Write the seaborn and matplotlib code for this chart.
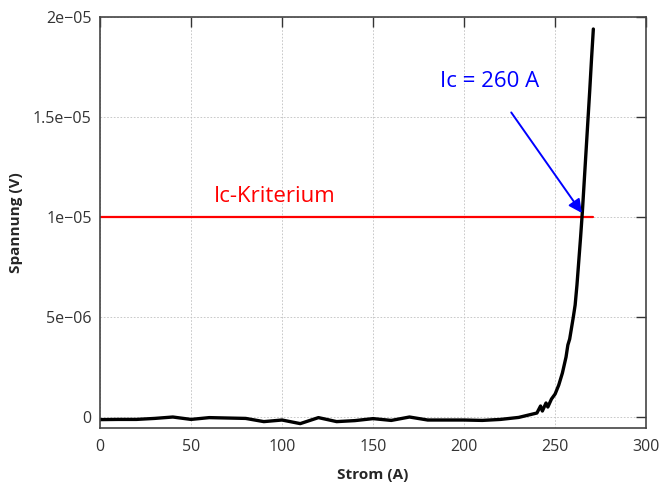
import matplotlib
matplotlib.use("Agg")
import numpy as np
import pandas as pd
import matplotlib.pyplot as plt
import seaborn as sns
from matplotlib.ticker import FuncFormatter

# Messdaten: Strom (A) und Spannung (V)
strom = [0, 10, 20, 30, 40, 50, 60, 70, 80, 90, 100, 110, 120, 130, 140,
         150, 160, 170, 180, 190, 200, 210, 220, 230, 240, 242, 243, 245,
         246, 248, 250, 252, 254, 256, 257, 258, 260, 261, 262, 263, 264,
         265, 266, 267, 268, 269, 270, 271]
spannung_uv = [-0.13, -0.12, -0.12, -0.07, 0.0, -0.12, -0.03, -0.05, -0.07,
               -0.23, -0.15, -0.33, -0.03, -0.23, -0.18, -0.08, -0.17, 0.0,
               -0.15, -0.15, -0.15, -0.17, -0.12, -0.02, 0.2, 0.55, 0.3, 0.7,
               0.5, 0.9, 1.15, 1.6, 2.2, 3.0, 3.6, 3.9, 5.0, 5.6, 6.6, 7.8,
               9.0, 10.3, 11.8, 13.3, 14.8, 16.3, 17.9, 19.4]
spannung = [v * 1e-6 for v in spannung_uv]

kriterium_x = [0, 271]
kriterium_y = [1e-5, 1e-5]

ic_label = "Ic = 260 A"
krit_label = "Ic-Kriterium"

df = pd.DataFrame({"Strom": strom, "Spannung": spannung})
df_krit = pd.DataFrame({"Strom": kriterium_x, "Spannung": kriterium_y})

sns.set_style("white")
plt.rcParams['font.family'] = ['Open Sans', 'DejaVu Sans']

fig = plt.figure(figsize=(6.6, 4.82), dpi=100)
ax = fig.add_axes([0.1515, 0.112, 0.8275, 0.8527])

sns.lineplot(data=df_krit, x="Strom", y="Spannung", color="red", linewidth=1.6, ax=ax)
sns.lineplot(data=df, x="Strom", y="Spannung", color="black", linewidth=2.4,
             sort=False, estimator=None, ax=ax)

ax.set_xlim(0, 300)
ax.set_ylim(-0.55e-6, 2e-5)
ax.set_xticks(np.arange(0, 301, 50))
ax.set_yticks([0, 5e-6, 1e-5, 1.5e-5, 2e-5])
ax.yaxis.set_major_formatter(FuncFormatter(lambda v, p: ("%g" % v).replace("-", "\u2212")))

ax.grid(True, color="#c0c0c0", linestyle=(0, (2, 2)), linewidth=0.6)
ax.tick_params(direction="in", length=7, width=1, top=True, right=True,
               labelsize=11.5, colors="#333333", pad=6)
ax.tick_params(axis="x", pad=8)
for s in ax.spines.values():
    s.set_color("#444444")
    s.set_linewidth(1.2)

ax.set_xlabel("Strom (A)", fontsize=11, fontweight="bold", labelpad=9)
ax.set_ylabel("Spannung (V)", fontsize=11, fontweight="bold", labelpad=7)

ax.text(96, 1.105e-5, krit_label, color="red", fontsize=16, ha="center", va="center")
ax.annotate(ic_label, xy=(264.7, 1.02e-5), xytext=(214, 1.677e-5),
            color="blue", fontsize=16, ha="center", va="center",
            arrowprops=dict(arrowstyle="-|>", color="blue", lw=1.4,
                            mutation_scale=20, shrinkA=15, shrinkB=0))

plt.savefig("out.png", dpi=100)
